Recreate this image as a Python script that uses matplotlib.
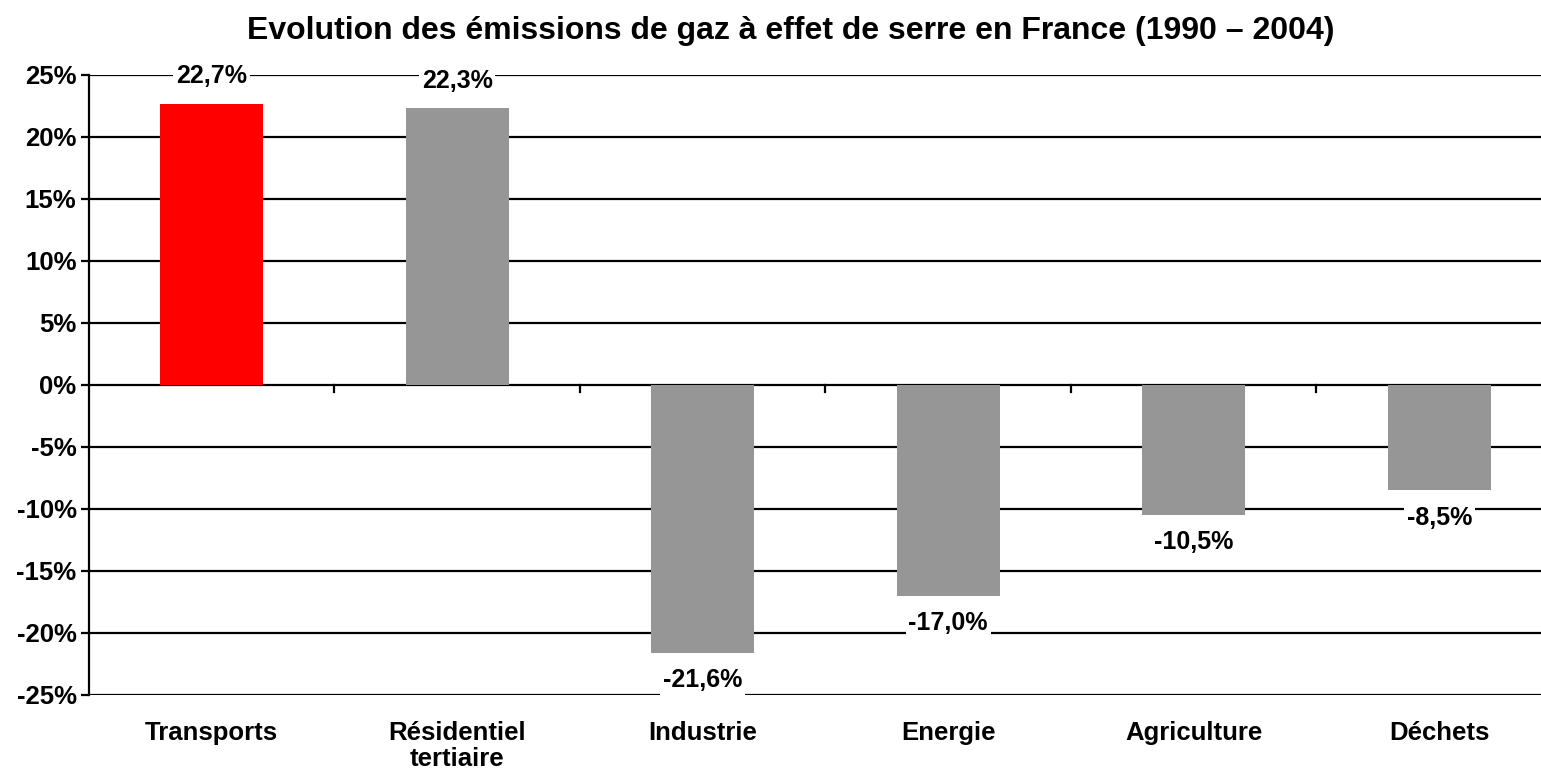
import numpy as np
import matplotlib
matplotlib.use("Agg")
import matplotlib.pyplot as plt

plt.rcParams['font.family'] = ['Liberation Sans', 'DejaVu Sans']
plt.rcParams['font.weight'] = 'bold'

# data
categories = ['Transports', 'Résidentiel\ntertiaire', 'Industrie', 'Energie', 'Agriculture', 'Déchets']
values = [22.7, 22.3, -21.6, -17.0, -10.5, -8.5]
colors = ['#ff0000', '#969696', '#969696', '#969696', '#969696', '#969696']
yticks = [25, 20, 15, 10, 5, 0, -5, -10, -15, -20, -25]

fig = plt.figure(figsize=(15.41, 7.75), dpi=100)
# axes run slightly past the right edge, like the original crop
ax = fig.add_axes([89/1541, 80/775, 1473/1541, 620/775])

x = np.arange(len(categories))
ax.bar(x, values, width=0.42, color=colors, zorder=3)

ax.set_xlim(-0.5, len(categories) - 0.5)
ax.set_ylim(-25, 25)
ax.set_yticks(yticks)
ax.set_yticklabels([f'{t}%' for t in yticks], fontsize=18.5, fontweight='bold')
ax.yaxis.grid(True, color='black', linewidth=1.6, zorder=1)
ax.tick_params(axis='y', length=6, width=1.6, pad=3)

# x axis: category labels at bottom, boundary ticks on the 0% line
ax.set_xticks(x)
ax.set_xticklabels(categories, fontsize=18.5, fontweight='bold', va='top', linespacing=1.1)
ax.tick_params(axis='x', length=0, pad=19)
for b in np.arange(0.5, len(categories) - 0.5, 1.0):
    ax.plot([b, b], [0, -0.55], color='black', linewidth=1.6, zorder=2, clip_on=False)

for s in ['top', 'right', 'bottom']:
    ax.spines[s].set_visible(False)
ax.spines['left'].set_linewidth(1.6)

# value labels with white box
for xi, v in zip(x, values):
    txt = f'{v:.1f}%'.replace('.', ',')
    off = 2.2 if v > 0 else -2.2
    ax.text(xi, v + off, txt, ha='center', va='center', fontsize=18, fontweight='bold',
            zorder=4, bbox=dict(facecolor='white', edgecolor='none', pad=2))

fig.text(0.513, 0.960, 'Evolution des émissions de gaz à effet de serre en France (1990 – 2004)',
         ha='center', va='center', fontsize=23, fontweight='bold')

fig.savefig('out.png', dpi=100)
